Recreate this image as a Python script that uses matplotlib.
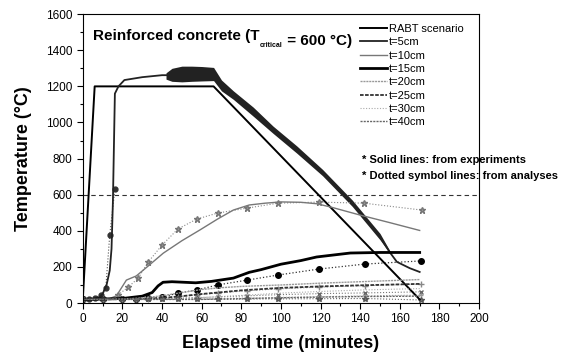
import numpy as np
import matplotlib.pyplot as plt
from matplotlib.ticker import MultipleLocator

plt.rcParams['font.family'] = ['Liberation Sans', 'DejaVu Sans']

# RABT fire curve
rabt_t = [0, 6, 66, 170]
rabt_T = [20, 1200, 1200, 20]

# experiments (solid lines)
t5_t = [0, 5, 8, 10, 12, 13.6, 14.5, 15.2, 16.2, 18, 21, 30, 40, 45, 55, 66,
        76, 86, 96, 108, 121, 136, 150, 155, 158.5, 165, 170]
t5_T = [20, 22, 30, 50, 100, 180, 300, 560, 1160, 1200, 1235, 1251, 1262, 1262, 1265, 1260,
        1150, 1060, 960, 850, 720, 553, 366, 280, 228, 193, 172]
band_t = [42, 45, 50, 55, 60, 66, 70, 76, 86, 96, 108, 121, 136, 150, 155]
band_lo = [1240, 1228, 1225, 1228, 1230, 1232, 1175, 1128, 1035, 940, 830, 705, 535, 350, 274]
band_hi = [1275, 1300, 1312, 1312, 1310, 1305, 1235, 1175, 1085, 980, 870, 740, 570, 385, 288]

t10_t = [0, 13, 17, 22, 27, 33, 40.6, 50, 59, 68, 76, 84, 92, 100, 110, 118, 125, 140, 155, 170]
t10_T = [20, 22, 40, 127, 150, 205, 276, 345, 404, 465, 515, 543, 553, 560, 558, 550, 532, 487, 445, 402]

t15_t = [0, 20, 30, 35, 38, 40.5, 45, 57, 65, 76, 84, 90, 100, 110, 118, 135, 150, 170]
t15_T = [20, 25, 38, 58, 95, 115, 118, 112, 120, 138, 170, 185, 215, 235, 255, 277, 280, 280]

t20_t = [0, 20, 30, 40, 50, 60, 70, 80, 100, 120, 140, 170]
t20_T = [20, 22, 28, 40, 58, 75, 85, 92, 100, 110, 118, 130]

t25_t = [0, 30, 40, 50, 60, 70, 80, 100, 120, 140, 170]
t25_T = [20, 22, 28, 38, 50, 60, 70, 84, 92, 98, 106]

t30_t = [0, 40, 60, 80, 100, 120, 140, 170]
t30_T = [20, 22, 30, 42, 55, 64, 72, 80]

t40_t = [0, 60, 80, 100, 120, 140, 170]
t40_T = [20, 20, 24, 29, 33, 36, 38]

# analyses (dotted symbol lines)
a5_t = [0, 3, 6, 9, 11.6, 13.6, 16.2]
a5_T = [20, 22, 28, 45, 83, 376, 631]

a10_t = [17.7, 23, 28, 33, 40, 48, 57.5, 68, 83, 98.5, 119, 142, 171]
a10_T = [44, 89, 138, 227, 321, 410, 465, 498, 526, 553, 559, 553, 515]

a15_t = [0, 10, 20, 27, 33, 40, 48, 57.5, 68, 83, 98.5, 119, 142.5, 170.5]
a15_T = [20, 20, 22, 24, 27, 32, 55, 72, 100, 127, 155, 188, 216, 233]

a20_t = [0, 10, 20, 27, 33, 40, 48, 57.5, 68, 83, 98.5, 119, 142.5, 170.5]
a20_T = [20, 20, 20, 22, 24, 28, 35, 45, 55, 68, 78, 88, 96, 105]

a25_t = [0, 10, 20, 27, 33, 40, 48, 57.5, 68, 83, 98.5, 119, 142.5, 170.5]
a25_T = [20, 20, 20, 20, 21, 23, 26, 30, 34, 40, 46, 52, 56, 62]

a30_t = [0, 10, 20, 27, 33, 40, 48, 57.5, 68, 83, 98.5, 119, 142.5, 170.5]
a30_T = [20, 20, 20, 20, 20, 21, 22, 23, 25, 28, 31, 35, 40, 44]

a40_t = [0, 10, 20, 27, 33, 40, 48, 57.5, 68, 83, 98.5, 119, 142.5, 170.5]
a40_T = [20, 20, 20, 20, 20, 20, 20, 20, 21, 22, 23, 24, 25, 17]

fig = plt.figure(figsize=(5.67, 3.54), dpi=100)
ax = fig.add_axes([0.146, 0.144, 0.699, 0.816])

# analyses first (underneath)
ax.plot(a5_t, a5_T, color='#555555', ls=':', lw=0.8, marker='o', ms=3.5, mfc='#333333', mec='#333333')
ax.plot(a10_t, a10_T, color='#888888', ls=':', lw=0.8, marker='*', ms=5, mfc='#999999', mec='#777777')
ax.plot(a15_t, a15_T, color='#333333', ls=':', lw=0.9, marker='o', ms=4, mfc='k', mec='k')
ax.plot(a20_t, a20_T, color='#999999', ls=':', lw=0.8, marker='+', ms=4, mec='#888888')
ax.plot(a25_t, a25_T, color='#777777', ls=':', lw=0.8, marker='x', ms=3, mec='#666666')
ax.plot(a30_t, a30_T, color='#aaaaaa', ls=':', lw=0.8, marker='+', ms=3.5, mec='#999999')
ax.plot(a40_t, a40_T, color='#666666', ls=':', lw=0.8, marker='*', ms=4, mec='#555555', mfc='#777777')

ax.axhline(600, color='#333333', ls=(0, (4, 3)), lw=0.8)

ax.plot(rabt_t, rabt_T, color='k', lw=1.4, label='RABT scenario')
ax.fill_between(band_t, band_lo, band_hi, color='#222222', lw=0)
ax.plot(t5_t, t5_T, color='#222222', lw=1.3, label='t=5cm')
ax.plot(t10_t, t10_T, color='#777777', lw=1.0, label='t=10cm')
ax.plot(t15_t, t15_T, color='k', lw=2.0, label='t=15cm')
ax.plot(t20_t, t20_T, color='#999999', lw=1.0, ls=(0, (1.5, 0.6)), label='t=20cm')
ax.plot(t25_t, t25_T, color='#333333', lw=1.3, ls=(0, (2, 0.8)), label='t=25cm')
ax.plot(t30_t, t30_T, color='#aaaaaa', lw=0.8, ls=(0, (1, 1.5)), label='t=30cm')
ax.plot(t40_t, t40_T, color='#666666', lw=1.0, ls=(0, (1.5, 0.8)), label='t=40cm')

ax.set_xlim(0, 200)
ax.set_ylim(0, 1600)
ax.xaxis.set_major_locator(MultipleLocator(20))
ax.xaxis.set_minor_locator(MultipleLocator(10))
ax.yaxis.set_major_locator(MultipleLocator(200))
ax.yaxis.set_minor_locator(MultipleLocator(100))
ax.tick_params(which='major', direction='out', length=4, width=0.8, labelsize=8.5)
ax.tick_params(which='minor', direction='out', length=2.5, width=0.8)
for s in ax.spines.values():
    s.set_linewidth(0.8)

ax.set_xlabel('Elapsed time (minutes)', fontsize=13, fontweight='bold', labelpad=7)
ax.set_ylabel('Temperature (\u00b0C)', fontsize=13, fontweight='bold', labelpad=10)

# title in three pieces so the subscript can be tiny
t1 = ax.text(0.025, 0.91, 'Reinforced concrete (T', transform=ax.transAxes,
             fontsize=11, fontweight='bold', va='baseline', ha='left')
t2 = ax.annotate('critical', xy=(1, 0), xycoords=t1, xytext=(0.5, -2.5),
                 textcoords='offset points', fontsize=5, fontweight='bold',
                 va='baseline', ha='left')
ax.annotate(' = 600 \u00b0C)', xy=(1, 0), xycoords=t2, xytext=(0, 2.5),
            textcoords='offset points', fontsize=11, fontweight='bold',
            va='baseline', ha='left')

ax.legend(loc='upper left', bbox_to_anchor=(0.70, 0.966), frameon=False, fontsize=8,
          handlelength=2.4, handletextpad=0.15, labelspacing=0.3, borderpad=0, borderaxespad=0)

ax.text(0.705, 0.495, '* Solid lines: from experiments', transform=ax.transAxes,
        fontsize=8, fontweight='bold', va='center', ha='left', clip_on=False)
ax.text(0.705, 0.44, '* Dotted symbol lines: from analyses', transform=ax.transAxes,
        fontsize=8, fontweight='bold', va='center', ha='left', clip_on=False)

fig.savefig('out.png', dpi=100)
